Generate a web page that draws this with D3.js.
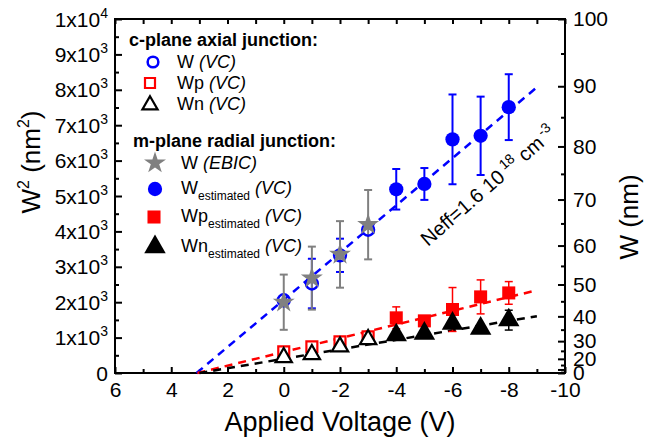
<!DOCTYPE html>
<html><head><meta charset="utf-8">
<script src="https://cdn.jsdelivr.net/npm/d3@7"></script>
<style>body{margin:0;background:#fff} svg{font-family:Arial,"Liberation Sans",sans-serif}</style>
</head><body><svg id="c" width="652" height="441"></svg>
<script>
// ---- data ----
const xMajorTicks = [6,4,2,0,-2,-4,-6,-8,-10];
const xMinorTicks = [5,3,1,-1,-3,-5,-7,-9];
const xTopTicks = [6,5,4,3,2,1,0,-1,-2,-3,-4,-5,-6,-7,-8,-9,-10];
const yMajorTicks = [0,1000,2000,3000,4000,5000,6000,7000,8000,9000,10000];
const yMinorTicks = [500,1500,2500,3500,4500,5500,6500,7500,8500,9500];
const wMajorTicks = [0,10,20,30,40,50,60,70,80,90,100];
const wMinorTicks = [5,15,25,35,45,55,65,75,85,95];

// c-plane axial junction (VC)
const cVolt = [0,-1,-2,-3];
const cW = [2056,2527,3324,4047];
const cWErr = [0,700,470,0];
const cWp = [600,741,882,1023];
const cWn = [441,526,741,949];

// m-plane radial junction
const ebicVolt = [0,-1,-2,-3];
const ebicW = [2000,2680,3350,4190];
const ebicErr = [780,890,940,980];

const mVolt = [-4,-5,-6,-7,-8];
const mW = [5190,5340,6600,6700,7510];
const mWErr = [573,450,1268,1107,930];
const mWp = [1558,1473,1794,2150,2262];
const mWpErr = [310,0,620,480,320];
const mWn = [1070,1118,1400,1259,1493];
const mWnErr = [0,0,0,0,280];

// linear fits (start/end voltage, start/end W^2)
const fitBlueV = [3.1,-9], fitBlueW = [0,8070];
const fitRedV = [3.07,-9], fitRedW = [0,2338];
const fitBlackV = [3.0,-9], fitBlackW = [0,1606];

// ---- chart ----
const svg = d3.select("#c");
const L=115, R=565, T=19, B=373;
const x = d3.scaleLinear().domain([6,-10]).range([L,R]);
const y = d3.scaleLinear().domain([0,10000]).range([B,T]);
const yW = d3.scalePow().exponent(2).domain([0,100]).range([B,T]);

const BLUE="#0000ff", RED="#ff0000", GRAY="#808080";

function styleAxis(g){
  g.select(".domain").remove();
  g.selectAll(".tick line").attr("stroke","#000").attr("stroke-width",2);
  g.selectAll(".tick text").attr("fill","#000").attr("font-size",21);
}
// bottom
svg.append("g").attr("transform",`translate(0,${B})`)
  .call(d3.axisBottom(x).tickValues(xMajorTicks).tickSize(-6).tickPadding(9).tickFormat(d=>d))
  .call(styleAxis);
svg.append("g").attr("transform",`translate(0,${B})`)
  .call(d3.axisBottom(x).tickValues(xMinorTicks).tickSize(-4).tickFormat(""))
  .call(styleAxis);
// top
svg.append("g").attr("transform",`translate(0,${T})`)
  .call(d3.axisTop(x).tickValues(xTopTicks).tickSize(-5).tickFormat(""))
  .call(styleAxis);
// left
const gl = svg.append("g").attr("transform",`translate(${L},0)`)
  .call(d3.axisLeft(y).tickValues(yMajorTicks).tickSize(-7).tickPadding(7).tickFormat(""))
  .call(styleAxis);
gl.selectAll(".tick text").each(function(d){
  const t = d3.select(this);
  if(d===0){ t.text("0"); return; }
  const mant = d===10000 ? 1 : d/1000;
  const exp = d===10000 ? "4" : "3";
  t.append("tspan").text(mant+"x10");
  t.append("tspan").attr("dy",-9).attr("font-size",14).text(exp);
});
gl.selectAll(".tick text").attr("dy",null).attr("y",7);
svg.append("g").attr("transform",`translate(${L},0)`)
  .call(d3.axisLeft(y).tickValues(yMinorTicks).tickSize(-4).tickFormat(""))
  .call(styleAxis);
// right
svg.append("g").attr("transform",`translate(${R},0)`)
  .call(d3.axisRight(yW).tickValues(wMajorTicks).tickSize(-7).tickPadding(8).tickFormat(d=>d===10?"":d))
  .call(styleAxis);
svg.append("g").attr("transform",`translate(${R},0)`)
  .call(d3.axisRight(yW).tickValues(wMinorTicks).tickSize(-4).tickFormat(""))
  .call(styleAxis);
// frame
svg.append("rect").attr("x",L).attr("y",T).attr("width",R-L).attr("height",B-T)
  .attr("fill","none").attr("stroke","#000").attr("stroke-width",2);

// axis titles
svg.append("text").attr("x",(L+R)/2).attr("y",431).attr("text-anchor","middle")
  .attr("font-size",27).text("Applied Voltage (V)");
const yl = svg.append("text").attr("transform",`translate(40,162) rotate(-90)`)
  .attr("text-anchor","middle").attr("font-size",26);
yl.append("tspan").text("W");
yl.append("tspan").attr("dy",-11).attr("font-size",16).text("2");
yl.append("tspan").attr("dy",11).text(" (nm");
yl.append("tspan").attr("dy",-11).attr("font-size",16).text("2");
yl.append("tspan").attr("dy",11).text(")");
svg.append("text").attr("transform",`translate(638,217) rotate(-90)`)
  .attr("text-anchor","middle").attr("font-size",26).text("W (nm)");

// fit lines
const line = d3.line().x(d=>x(d[0])).y(d=>y(d[1]));
function fit(v,w,c){
  svg.append("path").datum(v.map((vv,i)=>[vv,w[i]])).attr("d",line)
    .attr("fill","none").attr("stroke",c).attr("stroke-width",2.5).attr("stroke-dasharray","8,6");
}
fit(fitBlueV,fitBlueW,BLUE);
fit(fitRedV,fitRedW,RED);
fit(fitBlackV,fitBlackW,"#000");

// error bars
function errs(vs,ws,es,c,w){
  vs.forEach((v,i)=>{
    if(!es[i]) return;
    const cx=x(v), y1=y(ws[i]-es[i]), y2=y(ws[i]+es[i]);
    const g=svg.append("g").attr("stroke",c).attr("stroke-width",w);
    g.append("line").attr("x1",cx).attr("x2",cx).attr("y1",y1).attr("y2",y2);
    g.append("line").attr("x1",cx-4).attr("x2",cx+4).attr("y1",y1).attr("y2",y1);
    g.append("line").attr("x1",cx-4).attr("x2",cx+4).attr("y1",y2).attr("y2",y2);
  });
}
errs(cVolt,cW,cWErr,BLUE,2);
errs(ebicVolt,ebicW,ebicErr,GRAY,2);
errs(mVolt,mW,mWErr,BLUE,2);
errs(mVolt,mWp,mWpErr,RED,1.5);
errs(mVolt,mWn,mWnErr,"#000",1.5);

// markers
function marks(vs,ws,type,size,fill,stroke,sw){
  svg.append("g").selectAll("path").data(vs).join("path")
    .attr("transform",(v,i)=>`translate(${x(v)},${y(ws[i])})`)
    .attr("d",d3.symbol().type(type).size(size))
    .attr("fill",fill).attr("stroke",stroke||"none").attr("stroke-width",sw||0);
}
marks(cVolt,cW,d3.symbolCircle,110,"none",BLUE,2.5);
marks(cVolt,cWp,d3.symbolSquare,120,"#fff",RED,2.2);
marks(cVolt,cWn,d3.symbolTriangle,115,"#fff","#000",2.2);
marks(ebicVolt,ebicW,d3.symbolStar,150,GRAY);
marks(mVolt,mW,d3.symbolCircle,160,BLUE);
marks(mVolt,mWp,d3.symbolSquare,170,RED);
marks(mVolt,mWn,d3.symbolTriangle,200,"#000");

// annotation
const nt = svg.append("text").attr("transform","translate(428,247) rotate(-41)").attr("font-size",20);
nt.append("tspan").text("Neff=1.6 10");
nt.append("tspan").attr("dx",4).attr("dy",-8).attr("font-size",14).text("18");
nt.append("tspan").attr("dy",8).text(" cm");
nt.append("tspan").attr("dx",3).attr("dy",-8).attr("font-size",14).text("-3");

// legend
function sym(cx,cy,type,size,fill,stroke,sw){
  svg.append("path").attr("transform",`translate(${cx},${cy})`)
    .attr("d",d3.symbol().type(type).size(size))
    .attr("fill",fill).attr("stroke",stroke||"none").attr("stroke-width",sw||0);
}
function item(tx,ty,main,sub,note){
  const t=svg.append("text").attr("x",tx).attr("y",ty).attr("font-size",18);
  t.append("tspan").text(main);
  if(sub){ t.append("tspan").attr("dy",6).attr("font-size",12).text(sub);
           t.append("tspan").attr("dy",-6).text(" "); }
  else t.append("tspan").text(" ");
  t.append("tspan").attr("font-style","italic").text(note);
}
svg.append("text").attr("x",129).attr("y",46).attr("font-size",18).attr("font-weight","bold").text("c-plane axial junction:");
sym(153,62,d3.symbolCircle,90,"none",BLUE,2.5); item(177,68,"W",null,"(VC)");
sym(150,83,d3.symbolSquare,100,"#fff",RED,2.2); item(177,89,"Wp",null,"(VC)");
sym(150,105,d3.symbolTriangle,100,"#fff","#000",2.2); item(177,110,"Wn",null,"(VC)");
svg.append("text").attr("x",133).attr("y",147).attr("font-size",18).attr("font-weight","bold").text("m-plane radial junction:");
sym(155,163,d3.symbolStar,150,GRAY); item(181,169,"W",null,"(EBIC)");
sym(155,189,d3.symbolCircle,160,BLUE); item(181,194,"W","estimated","(VC)");
sym(154,217,d3.symbolSquare,170,RED); item(181,222,"Wp","estimated","(VC)");
sym(155,247,d3.symbolTriangle,200,"#000"); item(181,252,"Wn","estimated","(VC)");
</script></body></html>
